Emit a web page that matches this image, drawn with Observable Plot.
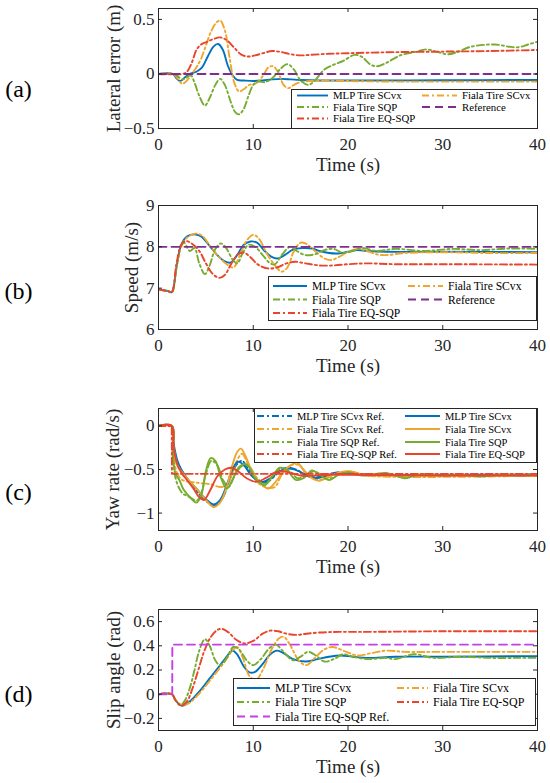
<!DOCTYPE html>
<html><head><meta charset="utf-8">
<script src="https://cdn.jsdelivr.net/npm/d3@7"></script>
<script src="https://cdn.jsdelivr.net/npm/@observablehq/plot@0.6"></script>
<style>
body{margin:0;background:#fff;}
#root{position:relative;width:550px;height:783px;background:#fff;overflow:hidden;font-family:"Liberation Serif","Times New Roman",serif;}
.pan{position:absolute;left:0;}
.leg{position:absolute;}
#root svg text{font-family:"Liberation Serif","Times New Roman",serif;}
</style></head>
<body><div id="root"></div>
<script>
// ---------- data ----------
const xTicks = [0, 10, 20, 30, 40];

// (a) lateral error (m)
const latTicks = [-0.5, 0, 0.5];
const lat_mlp = [[0,0],[1.5,0],[1.9,-0.04],[2.3,-0.065],[2.8,-0.03],[3.3,0.0],[4,0.02],[4.6,0.06],[5.2,0.16],[5.8,0.25],[6.3,0.275],[6.8,0.22],[7.3,0.08],[7.8,-0.01],[8.3,-0.055],[9,-0.06],[10,-0.065],[11,-0.06],[12,-0.05],[13,-0.045],[14,-0.05],[15,-0.055],[17,-0.06],[20,-0.06],[30,-0.058],[40,-0.055]];
const lat_scvx = [[0,0],[1.5,0],[2,-0.04],[2.5,-0.09],[3,-0.06],[3.5,0.0],[4,0.06],[4.5,0.14],[5,0.26],[5.5,0.38],[6,0.46],[6.5,0.49],[7,0.4],[7.5,0.15],[8,-0.08],[8.5,-0.16],[9,-0.14],[9.6,-0.1],[10.3,-0.085],[11,-0.02],[11.6,0.06],[12.1,0.07],[12.6,0.02],[13.2,-0.1],[13.7,-0.13],[14.3,-0.1],[15,-0.075],[16,-0.065],[18,-0.06],[20,-0.065],[25,-0.07],[30,-0.07],[40,-0.07]];
const lat_sqp = [[0,0],[1.5,0],[2,-0.02],[2.5,-0.05],[3,-0.03],[3.4,-0.01],[3.8,-0.08],[4.3,-0.2],[4.9,-0.29],[5.4,-0.22],[6,-0.1],[6.5,-0.045],[7,-0.1],[7.6,-0.25],[8.1,-0.35],[8.5,-0.37],[9,-0.32],[9.5,-0.2],[10,-0.1],[10.5,-0.07],[11.2,-0.075],[12,-0.04],[12.8,0.04],[13.6,0.09],[14.3,0.04],[15,-0.06],[15.8,-0.1],[16.5,-0.06],[17.5,0.04],[18.5,0.085],[19.5,0.12],[20.7,0.175],[21.5,0.155],[22.3,0.09],[23,0.07],[24,0.1],[25.5,0.17],[27,0.2],[28.3,0.225],[29.5,0.2],[30.5,0.18],[31.5,0.2],[33,0.25],[35.5,0.27],[37,0.25],[38,0.245],[39,0.27],[40,0.295]];
const lat_eq = [[0,0],[2.5,0],[3,0.02],[3.5,0.1],[4,0.22],[4.5,0.27],[5,0.29],[5.8,0.32],[6.5,0.335],[7.2,0.31],[8,0.24],[8.7,0.18],[9.4,0.16],[10.2,0.17],[11,0.19],[12,0.21],[13,0.2],[14,0.18],[15,0.17],[16,0.175],[18,0.185],[20,0.19],[22,0.195],[25,0.2],[30,0.205],[35,0.21],[40,0.22]];
const lat_ref = [[0,0],[40,0]];

// (b) speed (m/s)
const spdTicks = [6, 7, 8, 9];
const spd_mlp = [[0,6.97],[0.5,6.95],[1,6.93],[1.4,6.9],[1.9,7.5],[2.4,8.05],[3,8.25],[3.9,8.3],[4.5,8.25],[5.3,8.05],[6.2,7.8],[7,7.65],[7.6,7.62],[8.3,7.8],[9,8.05],[9.7,8.13],[10.4,8.1],[11.2,7.9],[12,7.75],[12.6,7.72],[13.3,7.8],[14.2,7.93],[15.2,7.97],[16.2,7.96],[17,7.9],[18,7.85],[19,7.84],[20,7.88],[21,7.92],[22,7.9],[24,7.88],[30,7.88],[40,7.87]];
const spd_scvx = [[0,6.97],[0.5,6.95],[1,6.93],[1.4,6.9],[1.9,7.5],[2.4,8.0],[3,8.22],[3.9,8.32],[4.6,8.27],[5.5,8.0],[6.4,7.75],[7.2,7.58],[7.9,7.5],[8.6,7.8],[9.3,8.15],[10,8.29],[10.6,8.2],[11.4,7.85],[12.3,7.55],[13,7.4],[13.6,7.5],[14.3,7.9],[15,8.1],[15.6,8.07],[16.5,7.9],[17.5,7.72],[18.2,7.68],[19,7.75],[20,7.88],[21,7.95],[22,7.9],[23,7.82],[24,7.8],[26,7.85],[30,7.87],[35,7.85],[40,7.85]];
const spd_sqp = [[0,6.97],[0.5,6.95],[1,6.93],[1.4,6.9],[1.9,7.5],[2.4,8.05],[2.7,8.1],[3.3,7.9],[3.8,7.97],[4.3,7.6],[4.9,7.34],[5.4,7.55],[6,7.95],[6.6,8.08],[7.2,7.95],[7.8,7.7],[8.3,7.6],[8.9,7.85],[9.5,8.05],[10.2,8.0],[11,7.8],[11.8,7.6],[12.3,7.58],[13,7.8],[13.9,8.0],[14.6,7.9],[15.5,7.8],[16.5,7.82],[17.5,7.92],[18.5,7.95],[19.5,7.85],[20.5,7.9],[21.5,7.97],[23,7.9],[25,7.95],[28,7.9],[31,7.95],[34,7.92],[37,7.96],[40,7.95]];
const spd_eq = [[0,6.97],[0.5,6.95],[1,6.93],[1.4,6.9],[1.9,7.6],[2.4,8.05],[2.8,8.14],[3.5,8.08],[4.3,7.9],[5,7.6],[5.7,7.35],[6.4,7.25],[7,7.32],[7.7,7.6],[8.4,7.82],[9,7.86],[9.7,7.75],[10.5,7.57],[11.5,7.48],[12.5,7.5],[13.5,7.6],[14.4,7.64],[15.5,7.6],[17,7.55],[18.5,7.55],[20,7.58],[22,7.6],[25,7.58],[30,7.58],[40,7.57]];
const spd_ref = [[0,8],[40,8]];

// (c) yaw rate (rad/s)
const yawTicks = [-1, -0.5, 0];
const yaw_mlp_ref = [[0,0],[1.4,0],[1.6,-0.25],[2,-0.42],[3,-0.6],[4,-0.74],[5,-0.86],[6,-0.91],[6.8,-0.82],[7.5,-0.62],[8.2,-0.45],[8.8,-0.4],[9.5,-0.5],[10.5,-0.63],[11.5,-0.64],[12.5,-0.55],[13.5,-0.48],[14.5,-0.5],[15.5,-0.56],[16.5,-0.59],[17.5,-0.57],[19,-0.53],[20.5,-0.55],[22,-0.56],[40,-0.56]];
const yaw_scvx_ref = [[0,0],[1.4,0],[1.6,-0.35],[2,-0.55],[2.5,-0.62],[4,-0.65],[5.5,-0.67],[6.7,-0.7],[7.5,-0.62],[8.2,-0.42],[8.8,-0.32],[9.5,-0.45],[10.5,-0.65],[11.5,-0.71],[12.3,-0.7],[13,-0.56],[14,-0.45],[14.8,-0.45],[15.7,-0.56],[16.7,-0.62],[17.7,-0.6],[19,-0.54],[20.5,-0.53],[22,-0.57],[40,-0.57]];
const yaw_sqp_ref = [[0,0],[1.4,0],[1.5,-0.35],[1.8,-0.6],[2.2,-0.72],[2.6,-0.78],[3,-0.8],[3.5,-0.83],[4,-0.86],[4.5,-0.78],[5,-0.55],[5.6,-0.4],[6.2,-0.45],[6.8,-0.62],[7.4,-0.7],[8,-0.58],[8.8,-0.46],[9.5,-0.46],[10.4,-0.6],[11.3,-0.66],[12.2,-0.56],[13,-0.49],[13.8,-0.52],[14.7,-0.6],[15.6,-0.57],[16.4,-0.52],[17.3,-0.57],[18.2,-0.6],[19.2,-0.55],[20.5,-0.54],[22,-0.56],[40,-0.56]];
const yaw_eq_ref = [[0,0],[1.4,0],[1.42,-0.55],[40,-0.55]];
const yaw_mlp = [[0,0],[1.4,0],[1.6,-0.2],[2,-0.4],[2.5,-0.52],[3,-0.6],[4,-0.72],[5,-0.84],[5.8,-0.9],[6.5,-0.85],[7.2,-0.68],[7.8,-0.5],[8.4,-0.41],[9,-0.45],[9.8,-0.57],[10.8,-0.645],[11.8,-0.6],[12.8,-0.52],[13.8,-0.49],[14.8,-0.52],[15.8,-0.58],[16.7,-0.6],[17.7,-0.57],[19,-0.54],[20.5,-0.55],[22,-0.56],[30,-0.56],[40,-0.56]];
const yaw_scvx = [[0,0],[1.4,0],[1.6,-0.25],[2,-0.45],[3,-0.6],[4,-0.72],[5,-0.85],[5.8,-0.93],[6.5,-0.88],[7.2,-0.7],[7.8,-0.45],[8.3,-0.3],[8.7,-0.26],[9.2,-0.35],[10,-0.55],[11,-0.68],[11.6,-0.72],[12.3,-0.65],[13.2,-0.52],[14,-0.45],[14.6,-0.42],[15.3,-0.5],[16.2,-0.6],[17,-0.63],[18,-0.58],[19.2,-0.53],[20.2,-0.52],[21.5,-0.56],[23,-0.57],[30,-0.57],[40,-0.57]];
const yaw_sqp = [[0,0],[1.4,0],[1.5,-0.3],[1.8,-0.55],[2.2,-0.62],[2.6,-0.72],[3,-0.78],[3.5,-0.84],[4,-0.88],[4.5,-0.8],[5,-0.52],[5.5,-0.37],[6,-0.4],[6.6,-0.6],[7.2,-0.72],[7.8,-0.62],[8.5,-0.47],[9.3,-0.44],[10.2,-0.6],[11.2,-0.68],[12,-0.58],[12.8,-0.48],[13.5,-0.5],[14.5,-0.62],[15.3,-0.6],[16.2,-0.51],[17,-0.56],[18,-0.62],[19,-0.56],[20,-0.53],[21,-0.56],[22,-0.57],[23,-0.55],[24,-0.54],[25,-0.57],[26,-0.6],[27,-0.57],[28,-0.55],[30,-0.57],[32,-0.56],[34,-0.58],[36,-0.56],[38,-0.57],[40,-0.56]];
const yaw_eq = [[0,0],[1.4,0],[1.6,-0.25],[2,-0.45],[2.5,-0.55],[3,-0.62],[3.7,-0.72],[4.3,-0.82],[4.8,-0.85],[5.4,-0.75],[6.2,-0.58],[7,-0.5],[7.7,-0.48],[8.4,-0.52],[9.3,-0.6],[10.3,-0.64],[11.3,-0.6],[12.2,-0.54],[13,-0.52],[14,-0.54],[15,-0.57],[16,-0.57],[18,-0.56],[20,-0.56],[30,-0.57],[40,-0.57]];

// (d) slip angle (rad)
const slipTicks = [-0.2, 0, 0.2, 0.4, 0.6];
const slip_mlp = [[0,0],[1.4,0],[1.8,-0.05],[2.4,-0.095],[3,-0.08],[3.7,-0.03],[4.5,0.04],[5.3,0.12],[6.2,0.21],[7,0.29],[7.8,0.36],[8.3,0.33],[9,0.23],[9.6,0.18],[10.2,0.185],[11,0.25],[11.8,0.33],[12.5,0.36],[13.2,0.34],[14.2,0.29],[15.5,0.27],[16.8,0.29],[18,0.31],[19.2,0.32],[20.5,0.31],[22,0.3],[25,0.31],[30,0.31],[40,0.315]];
const slip_scvx = [[0,0],[1.4,0],[1.8,-0.05],[2.5,-0.09],[3.2,-0.075],[4,-0.02],[5,0.07],[6,0.17],[7,0.27],[7.8,0.36],[8.3,0.39],[8.9,0.3],[9.6,0.15],[10.3,0.12],[11,0.2],[12,0.38],[12.7,0.46],[13.2,0.475],[13.8,0.42],[14.8,0.28],[15.6,0.24],[16.5,0.3],[17.5,0.37],[18.4,0.39],[19.5,0.36],[21,0.32],[22.5,0.34],[24,0.36],[26,0.35],[30,0.35],[40,0.35]];
const slip_sqp = [[0,0],[1.4,0],[1.8,-0.05],[2.3,-0.09],[2.8,-0.05],[3.3,0.05],[3.8,0.2],[4.3,0.36],[4.9,0.455],[5.4,0.4],[6,0.28],[6.5,0.24],[7.2,0.3],[7.9,0.39],[8.5,0.37],[9.3,0.28],[10,0.24],[10.8,0.29],[11.7,0.38],[12.4,0.41],[13.2,0.35],[14.2,0.28],[15,0.31],[15.8,0.35],[16.6,0.32],[17.5,0.27],[18.5,0.29],[19.5,0.33],[20.5,0.31],[22,0.29],[24,0.3],[25,0.29],[27,0.33],[29,0.3],[32,0.31],[35,0.3],[38,0.3],[40,0.3]];
const slip_eq = [[0,0],[1.4,0],[1.8,-0.05],[2.4,-0.095],[3,-0.06],[3.6,0.05],[4.2,0.2],[4.8,0.35],[5.5,0.47],[6.2,0.53],[6.7,0.54],[7.4,0.51],[8.2,0.45],[9.1,0.42],[10,0.44],[11,0.5],[11.8,0.525],[12.6,0.52],[13.5,0.5],[14.6,0.49],[15.6,0.5],[17,0.51],[19,0.515],[22,0.515],[30,0.52],[40,0.52]];
const slip_ref = [[0,0],[1.45,0],[1.46,0.41],[40,0.41]];

// ---------- styles ----------
const C = {blue:"#0072BD", orange:"#EFA62E", green:"#77AC30", red:"#E8452C", purple:"#7E2F8E", magenta:"#C63FE6"};
const DD = "7,3,2,3";   // dash-dot
const DA = "8,5";       // dashed
const FONT = "Liberation Serif, Times New Roman, serif";
const AX = "#262626";
const fmt = d => String(d).replace("-", "\u2212");

const root = document.getElementById("root");

function panel(cfg) {
  const W = 550, ML = 158, MR = 13;
  const innerH = cfg.height - cfg.mt - cfg.mb;
  const innerW = W - ML - MR;
  const lines = cfg.series.map(s => Plot.line(s.data, {
    x: d => d[0], y: d => d[1], stroke: s.color, strokeWidth: s.w || 1.9,
    strokeDasharray: s.dash || null, curve: s.curve || "catmull-rom", clip: true
  }));
  const p = Plot.plot({
    width: W, height: cfg.height,
    marginLeft: ML, marginRight: MR, marginTop: cfg.mt, marginBottom: cfg.mb,
    style: {fontFamily: FONT, fontSize: "17px", color: AX, background: "transparent", overflow: "visible"},
    x: {domain: [0, 40]},
    y: {domain: cfg.yDomain},
    marks: [
      ...lines,
      Plot.frame({stroke: AX, strokeWidth: 1}),
      Plot.ruleX(xTicks, {x: d => d, insetTop: innerH - 4, stroke: AX}),
      Plot.ruleX(xTicks, {x: d => d, insetBottom: innerH - 4, stroke: AX}),
      Plot.ruleY(cfg.yTicks, {y: d => d, insetRight: innerW - 4, stroke: AX}),
      Plot.ruleY(cfg.yTicks, {y: d => d, insetLeft: innerW - 4, stroke: AX}),
      Plot.axisX({ticks: xTicks, tickSize: 0, tickPadding: 9, label: null, tickFormat: fmt, fontFamily: FONT, fontSize: 17}),
      Plot.axisY({ticks: cfg.yTicks, tickSize: 0, tickPadding: 4, label: null, tickFormat: fmt, fontFamily: FONT, fontSize: 17}),
      Plot.text([cfg.yLabel], {text: d => d, frameAnchor: "left", textAnchor: "middle", lineAnchor: "middle", dx: cfg.yLabelDx, rotate: -90, fontSize: 19, fontFamily: FONT, fill: AX}),
      Plot.text(["Time (s)"], {text: d => d, frameAnchor: "bottom", textAnchor: "middle", lineAnchor: "middle", dy: 36, fontSize: 19, fontFamily: FONT, fill: AX}),
      Plot.text([cfg.letter], {text: d => d, frameAnchor: "left", textAnchor: "middle", lineAnchor: "middle", dx: -140, dy: cfg.letterDy, fontSize: 24, fontFamily: FONT, fill: "#000"})
    ]
  });
  const wrap = document.createElement("div");
  wrap.className = "pan";
  wrap.style.top = cfg.top + "px";
  wrap.appendChild(p);
  root.appendChild(wrap);
}

function legend(box, items, fontSize) {
  const svg = d3.select(root).append("svg").attr("class", "leg")
    .style("left", box.left + "px").style("top", box.top + "px")
    .attr("width", box.w + 1).attr("height", box.h + 1);
  svg.append("rect").attr("x", 0.5).attr("y", 0.5).attr("width", box.w).attr("height", box.h)
    .attr("fill", "#fff").attr("stroke", AX).attr("stroke-width", 1);
  items.forEach(it => {
    svg.append("line").attr("x1", it.x1).attr("x2", it.x2).attr("y1", it.y).attr("y2", it.y)
      .attr("stroke", it.color).attr("stroke-width", 1.9).attr("stroke-dasharray", it.dash || null);
    svg.append("text").attr("x", it.tx).attr("y", it.y).attr("dy", "0.35em")
      .attr("font-family", FONT).attr("font-size", fontSize).attr("fill", "#000").text(it.label);
  });
}

// ---------- panels ----------
panel({top: 0, height: 195, mt: 8, mb: 67, yDomain: [-0.5, 0.6], yTicks: latTicks,
  yLabel: "Lateral error (m)", yLabelDx: -45, letter: "(a)", letterDy: 21,
  series: [
    {data: lat_mlp, color: C.blue},
    {data: lat_scvx, color: C.orange, dash: DD},
    {data: lat_sqp, color: C.green, dash: DD},
    {data: lat_eq, color: C.red, dash: DD},
    {data: lat_ref, color: C.purple, dash: DA, curve: "linear"}
  ]});

panel({top: 195, height: 200, mt: 10, mb: 66, yDomain: [6, 9], yTicks: spdTicks,
  yLabel: "Speed (m/s)", yLabelDx: -27, letter: "(b)", letterDy: 24,
  series: [
    {data: spd_mlp, color: C.blue},
    {data: spd_scvx, color: C.orange, dash: DD},
    {data: spd_sqp, color: C.green, dash: DD},
    {data: spd_eq, color: C.red, dash: DD},
    {data: spd_ref, color: C.purple, dash: DA, curve: "linear"}
  ]});

panel({top: 395, height: 200, mt: 13, mb: 65, yDomain: [-1.2, 0.2], yTicks: yawTicks,
  yLabel: "Yaw rate (rad/s)", yLabelDx: -46, letter: "(c)", letterDy: 23,
  series: [
    {data: yaw_mlp_ref, color: C.blue, dash: DD},
    {data: yaw_scvx_ref, color: C.orange, dash: DD},
    {data: yaw_sqp_ref, color: C.green, dash: DD},
    {data: yaw_mlp, color: C.blue},
    {data: yaw_scvx, color: C.orange},
    {data: yaw_sqp, color: C.green},
    {data: yaw_eq_ref, color: C.red, dash: DD, curve: "linear"},
    {data: yaw_eq, color: C.red}
  ]});

panel({top: 595, height: 188, mt: 14, mb: 53, yDomain: [-0.3, 0.7], yTicks: slipTicks,
  yLabel: "Slip angle (rad)", yLabelDx: -45, letter: "(d)", letterDy: 24,
  series: [
    {data: slip_mlp, color: C.blue},
    {data: slip_scvx, color: C.orange, dash: DD},
    {data: slip_sqp, color: C.green, dash: DD},
    {data: slip_eq, color: C.red, dash: DD},
    {data: slip_ref, color: C.magenta, dash: DA, curve: "linear"}
  ]});

// ---------- legends ----------
legend({left: 291, top: 89, w: 246, h: 39}, [
  {label: "MLP Tire SCvx", color: C.blue, x1: 6, x2: 37, tx: 42, y: 6.5},
  {label: "Fiala Tire SQP", color: C.green, dash: DD, x1: 6, x2: 37, tx: 42, y: 18},
  {label: "Fiala Tire EQ-SQP", color: C.red, dash: DD, x1: 6, x2: 37, tx: 42, y: 29.5},
  {label: "Fiala Tire SCvx", color: C.orange, dash: DD, x1: 131, x2: 166, tx: 171, y: 6.5},
  {label: "Reference", color: C.purple, dash: DA, x1: 131, x2: 166, tx: 171, y: 18}
], 10.8);

legend({left: 268, top: 276, w: 268, h: 44}, [
  {label: "MLP Tire SCvx", color: C.blue, x1: 5, x2: 39, tx: 44, y: 10},
  {label: "Fiala Tire SQP", color: C.green, dash: DD, x1: 5, x2: 39, tx: 44, y: 23.5},
  {label: "Fiala Tire EQ-SQP", color: C.red, dash: DD, x1: 5, x2: 39, tx: 44, y: 37},
  {label: "Fiala Tire SCvx", color: C.orange, dash: DD, x1: 140, x2: 175, tx: 180, y: 10},
  {label: "Reference", color: C.purple, dash: DA, x1: 140, x2: 175, tx: 180, y: 23.5}
], 11.6);

legend({left: 254, top: 408, w: 282, h: 54}, [
  {label: "MLP Tire SCvx Ref.", color: C.blue, dash: DD, x1: 3, x2: 38, tx: 43, y: 8},
  {label: "Fiala Tire SCvx Ref.", color: C.orange, dash: DD, x1: 3, x2: 38, tx: 43, y: 21},
  {label: "Fiala Tire SQP Ref.", color: C.green, dash: DD, x1: 3, x2: 38, tx: 43, y: 34},
  {label: "Fiala Tire EQ-SQP Ref.", color: C.red, dash: DD, x1: 3, x2: 38, tx: 43, y: 46},
  {label: "MLP Tire SCvx", color: C.blue, x1: 151, x2: 186, tx: 191, y: 8},
  {label: "Fiala Tire SCvx", color: C.orange, x1: 151, x2: 186, tx: 191, y: 21},
  {label: "Fiala Tire SQP", color: C.green, x1: 151, x2: 186, tx: 191, y: 34},
  {label: "Fiala Tire EQ-SQP", color: C.red, x1: 151, x2: 186, tx: 191, y: 46}
], 10.5);

legend({left: 233, top: 678, w: 302, h: 47}, [
  {label: "MLP Tire SCvx", color: C.blue, x1: 4, x2: 37, tx: 42, y: 10},
  {label: "Fiala Tire SQP", color: C.green, dash: DD, x1: 4, x2: 37, tx: 42, y: 24},
  {label: "Fiala Tire EQ-SQP Ref.", color: C.magenta, dash: DA, x1: 4, x2: 37, tx: 42, y: 38.5},
  {label: "Fiala Tire SCvx", color: C.orange, dash: DD, x1: 164, x2: 195, tx: 200, y: 10},
  {label: "Fiala Tire EQ-SQP", color: C.red, dash: DD, x1: 164, x2: 195, tx: 200, y: 24}
], 12);
</script>
</body></html>
